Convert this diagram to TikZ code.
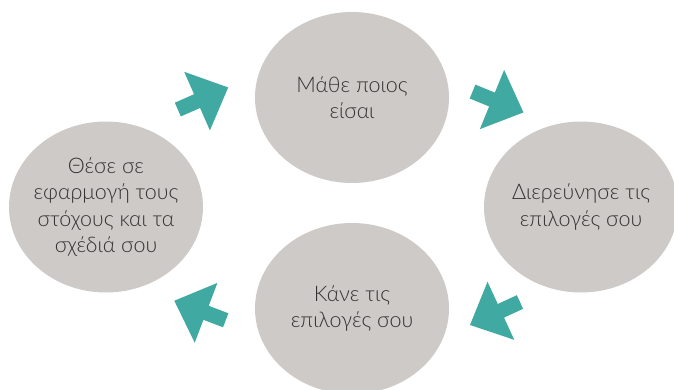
\documentclass[tikz,border=0pt]{standalone}
\usepackage{fontspec}
\setmainfont{Lato Light}
\usetikzlibrary{shapes.geometric}
\definecolor{stepgray}{RGB}{206,202,199}
\definecolor{steptext}{RGB}{50,50,50}
\definecolor{arrowteal}{RGB}{64,169,161}
\begin{document}
\begin{tikzpicture}[x=1pt,y=1pt,
    stage/.style={ellipse, fill=stepgray, minimum width=194pt, minimum height=171pt,
        inner xsep=-30pt, inner ysep=0pt, align=center, text=steptext,
        font=\fontsize{21.5}{26.5}\selectfont},
    cyclearrow/.pic={\fill[arrowteal] (-27.5,-7.5) -- (-6.5,-7.5) -- (-6.5,-32) -- (27.5,0)
        -- (-6.5,32) -- (-6.5,7.5) -- (-27.5,7.5) -- cycle;}]
    \useasboundingbox (0,0) rectangle (674,389);
    \clip (0,0) rectangle (674,389);

    \node[stage] (learn) at (352,291.5) {Μάθε ποιος\\είσαι};
    \node[stage] (explore) at (581,182) {Διερεύνησε τις\\επιλογές σου};
    \node[stage] (choose) at (352,80.5) {Κάνε τις\\επιλογές σου};
    \node[stage] (act) at (106,182) {Θέσε σε\\εφαρμογή τους\\στόχους και τα\\σχέδιά σου};

    \pic[rotate=23.7] at (203,290.5) {cyclearrow};
    \pic[rotate=-22.3] at (498,287) {cyclearrow};
    \pic[rotate=204.7] at (495,75.5) {cyclearrow};
    \pic[rotate=159.2] at (200,78.5) {cyclearrow};
\end{tikzpicture}
\end{document}
